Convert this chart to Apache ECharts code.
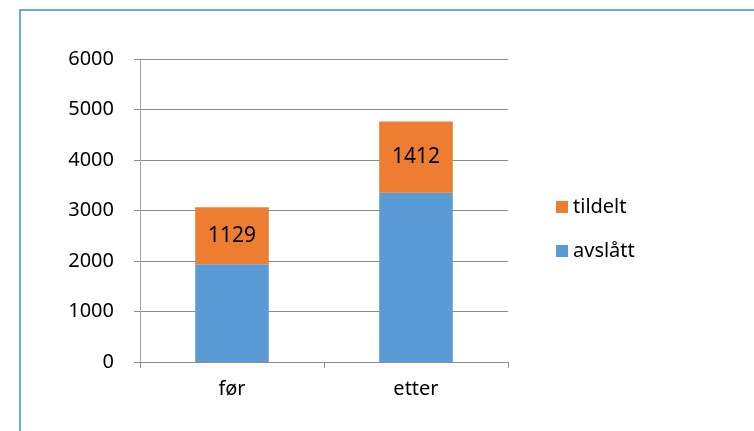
<!DOCTYPE html>
<html>
<head>
<meta charset="utf-8">
<script src="https://cdn.jsdelivr.net/npm/echarts@6/dist/echarts.min.js"></script>
<style>
  html, body { margin: 0; padding: 0; background: #fff; }
  #chart { width: 754px; height: 431px; }
</style>
</head>
<body>
<div id="chart"></div>
<script>
const categories = ['før', 'etter'];
const avslatt = [1935, 3350];
const tildelt = [1129, 1412];
const yTicks = [0, 1000, 2000, 3000, 4000, 5000, 6000];

const font = 'Noto Sans';
const chart = echarts.init(document.getElementById('chart'));

chart.setOption({
    animation: false,
    textStyle: { fontFamily: font },
    graphic: [{
        type: 'rect',
        shape: { x: 20, y: 10, width: 760, height: 440 },
        style: { fill: 'none', stroke: '#3a8fd0', lineWidth: 1.5 }
    }],
    grid: { left: 140, right: 246, top: 59, bottom: 69 },
    legend: {
        orient: 'vertical',
        left: 551,
        top: 192,
        itemWidth: 12,
        itemHeight: 12,
        itemGap: 24,
        icon: 'rect',
        data: ['tildelt', 'avslått'],
        textStyle: { fontSize: 20, color: '#000', fontFamily: font }
    },
    xAxis: {
        type: 'category',
        data: categories,
        axisLine: { lineStyle: { color: '#8c8c8c' } },
        axisTick: { show: true, length: 6, lineStyle: { color: '#8c8c8c' } },
        axisLabel: { fontSize: 20, color: '#000', margin: 17 }
    },
    yAxis: {
        type: 'value',
        min: 0,
        max: yTicks[yTicks.length - 1],
        interval: 1000,
        axisLine: { show: true, lineStyle: { color: '#a6a6a6' } },
        axisTick: { show: true, length: 6, inside: false, lineStyle: { color: '#8c8c8c' } },
        splitLine: { lineStyle: { color: '#8c8c8c' } },
        axisLabel: { fontSize: 20, color: '#000', margin: 26, formatter: v => String(v) }
    },
    series: [
        {
            name: 'avslått',
            type: 'bar',
            stack: 'total',
            barWidth: '40%',
            data: avslatt,
            itemStyle: { color: '#5b9bd5' }
        },
        {
            name: 'tildelt',
            type: 'bar',
            stack: 'total',
            data: tildelt,
            itemStyle: { color: '#ed7d31' },
            label: { show: true, position: 'inside', fontSize: 21, color: '#000', fontFamily: font }
        }
    ]
});
</script>
</body>
</html>
